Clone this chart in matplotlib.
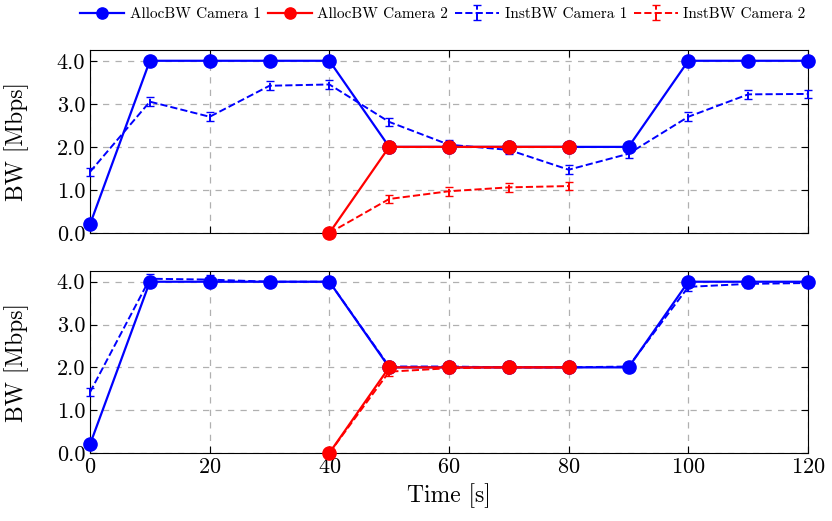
import matplotlib.pyplot as plt
import matplotlib.ticker as mticker

plt.rcParams['font.family'] = ['cmr10', 'DejaVu Serif']
plt.rcParams['mathtext.fontset'] = 'cm'
plt.rcParams['axes.formatter.use_mathtext'] = True

t = [0, 10, 20, 30, 40, 50, 60, 70, 80, 90, 100, 110, 120]
t2 = [40, 50, 60, 70, 80]

# top panel
alloc1_a = [0.2, 4, 4, 4, 4, 2, 2, 2, 2, 2, 4, 4, 4]
alloc2_a = [0, 2, 2, 2, 2]
inst1_a = [1.42, 3.05, 2.7, 3.42, 3.45, 2.58, 2.05, 1.93, 1.47, 1.84, 2.7, 3.22, 3.23]
inst2_a = [0, 0.79, 0.97, 1.06, 1.09]

# bottom panel
alloc1_b = [0.2, 4, 4, 4, 4, 2, 2, 2, 2, 2, 4, 4, 4]
alloc2_b = [0, 2, 2, 2, 2]
inst1_b = [1.42, 4.07, 4.05, 4.0, 4.0, 2.02, 2.02, 2.0, 2.0, 2.02, 3.88, 3.95, 3.97]
inst2_b = [0, 1.9, 1.98, 2.0, 2.0]

fig = plt.figure(figsize=(8.32, 5.21), dpi=100)
ax1 = fig.add_axes([0.1082, 0.5528, 0.863, 0.3512])
ax2 = fig.add_axes([0.1082, 0.1305, 0.863, 0.3493])

blue, red = '#0000ff', '#ff0000'

for ax, a1, a2, i1, i2 in [(ax1, alloc1_a, alloc2_a, inst1_a, inst2_a),
                           (ax2, alloc1_b, alloc2_b, inst1_b, inst2_b)]:
    ax.plot(t, a1, '-o', color=blue, lw=1.6, ms=9.5, clip_on=False, zorder=3,
            label='AllocBW Camera 1')
    ax.plot(t2, a2, '-o', color=red, lw=1.6, ms=9.5, clip_on=False, zorder=4,
            label='AllocBW Camera 2')
    e1 = ax.errorbar(t, i1, yerr=0.1, fmt='--', color=blue, lw=1.4, capsize=3,
                     elinewidth=1.4, clip_on=False, zorder=3,
                     label='InstBW Camera 1')
    e2 = ax.errorbar(t2, i2, yerr=0.1, fmt='--', color=red, lw=1.4, capsize=3,
                     elinewidth=1.4, clip_on=False, zorder=4,
                     label='InstBW Camera 2')
    for e in (e1, e2):
        for c in e[1]:
            c.set_clip_on(False)
        for b in e[2]:
            b.set_clip_on(False)
            b.set_linestyle('--')
    ax.set_xlim(0, 120)
    ax.set_ylim(0, 4.25)
    ax.set_xticks(range(0, 121, 20))
    ax.set_yticks([0, 1, 2, 3, 4])
    ax.yaxis.set_major_formatter(mticker.FormatStrFormatter('%.1f'))
    ax.grid(True, ls=(0, (5, 5)), color='#b0b0b0', lw=0.9)
    ax.tick_params(direction='in', labelsize=16, length=5,
                   top=True, right=True)
    ax.set_ylabel('BW [Mbps]', fontsize=17)
    ax.yaxis.set_label_coords(-0.085, 0.5)

ax1.tick_params(labelbottom=False)
ax2.set_xlabel('Time [s]', fontsize=17)

h, l = ax1.get_legend_handles_labels()
fig.legend(h, l, loc='center left', bbox_to_anchor=(80 / 832, 1 - 14 / 521),
           ncol=4, frameon=False, fontsize=11, handlelength=2.9,
           columnspacing=0.45, handletextpad=0.35, borderpad=0,
           borderaxespad=0, markerscale=0.85)

fig.savefig('out.png', dpi=100)
